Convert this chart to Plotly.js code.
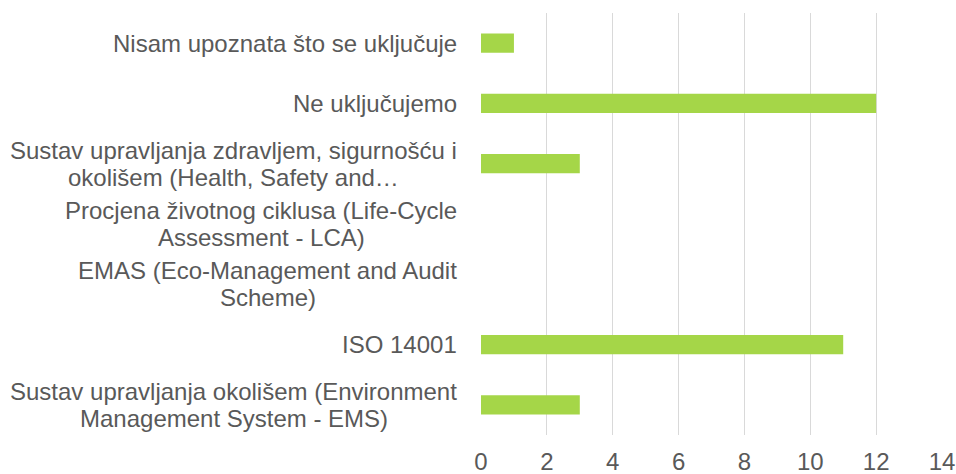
<!DOCTYPE html>
<html>
<head>
<meta charset="utf-8">
<script src="https://cdn.plot.ly/plotly-3.0.1.min.js"></script>
<style>
  html, body { margin: 0; padding: 0; background: #ffffff; }
  #chart { width: 956px; height: 474px; }
</style>
</head>
<body>
<div id="chart"></div>
<script>
// Categories listed top to bottom as in the chart
var categories = [
  "Nisam upoznata što se uključuje",
  "Ne uključujemo",
  "Sustav upravljanja zdravljem, sigurnošću i<br>okolišem (Health, Safety and…",
  "Procjena životnog ciklusa (Life-Cycle<br>Assessment - LCA)",
  "EMAS (Eco-Management and Audit<br>Scheme)",
  "ISO 14001",
  "Sustav upravljanja okolišem (Environment<br>Management System - EMS)"
];
var values = [1, 12, 3, 0, 0, 11, 3];
var xTicks = [0, 2, 4, 6, 8, 10, 12, 14];

var textColor = "#595959";
var fontFamily = "Arial, Liberation Sans, sans-serif";
var fontSize = 24;
var lineGap = 27;

var trace = {
  type: "bar",
  orientation: "h",
  y: categories,
  x: values,
  marker: { color: "#A5D648", line: { width: 0 } },
  width: 0.32,
  hoverinfo: "x+y"
};

// Category labels: one centred block per category, drawn line by line
var annotations = [];
categories.forEach(function (c) {
  var lines = c.split("<br>");
  var widest = lines.reduce(function (a, b) { return b.length > a.length ? b : a; }, "");
  lines.forEach(function (ln, i) {
    annotations.push({
      xref: "paper", yref: "y",
      x: 0, y: c,
      xanchor: "right", yanchor: "middle",
      xshift: -22,
      yshift: ((lines.length - 1) / 2 - i) * lineGap,
      align: "center",
      // pad each line into a centred block: use a hidden-width trick via a single annotation per block width
      text: ln,
      showarrow: false,
      font: { family: fontFamily, size: fontSize, color: textColor },
      _block: widest
    });
  });
});

var layout = {
  width: 956, height: 474,
  margin: { l: 481, r: 14, t: 13, b: 39, pad: 0 },
  paper_bgcolor: "#ffffff",
  plot_bgcolor: "#ffffff",
  showlegend: false,
  xaxis: {
    range: [0, 14],
    tickvals: xTicks,
    ticktext: xTicks.map(String),
    showgrid: true,
    gridcolor: "#d9d9d9",
    gridwidth: 1,
    zeroline: false,
    showline: false,
    ticks: "",
    ticklabelstandoff: 10,
    tickfont: { family: fontFamily, size: fontSize, color: textColor },
    fixedrange: true
  },
  yaxis: {
    type: "category",
    categoryorder: "array",
    categoryarray: categories,
    autorange: "reversed",
    showticklabels: false,
    showgrid: false,
    zeroline: false,
    showline: false,
    ticks: "",
    fixedrange: true
  },
  annotations: annotations.map(function (a) { var b = Object.assign({}, a); delete b._block; return b; })
};

Plotly.newPlot("chart", [trace], layout, { displayModeBar: false, staticPlot: true }).then(function (gd) {
  // Centre the lines of each multi-line label within the block's widest line
  var nodes = gd.querySelectorAll(".annotation");
  var idx = 0;
  var groups = [];
  categories.forEach(function (c) {
    var n = c.split("<br>").length;
    var g = [];
    for (var i = 0; i < n; i++) { g.push(idx++); }
    groups.push(g);
  });
  var anns = gd.layout.annotations;
  var updates = {};
  groups.forEach(function (g) {
    if (g.length < 2) return;
    var widths = g.map(function (k) { return nodes[k].getBBox().width; });
    var maxW = Math.max.apply(null, widths);
    g.forEach(function (k, j) {
      updates["annotations[" + k + "].xshift"] = -22 - (maxW - widths[j]) / 2;
    });
  });
  return Plotly.relayout(gd, updates);
});
</script>
</body>
</html>
